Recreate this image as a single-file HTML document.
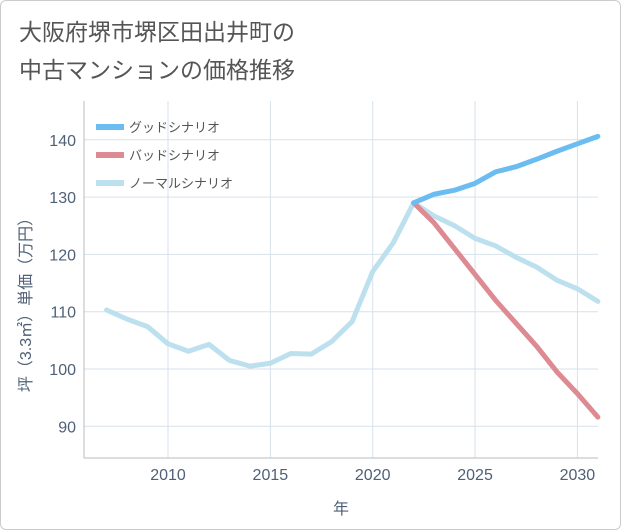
<!DOCTYPE html>
<html><head><meta charset="utf-8"><style>
body{margin:0;background:#fff;font-family:"Liberation Sans","Noto Sans CJK JP",sans-serif;}
#wrap{position:relative;width:619px;height:528px;border:1px solid #ccc;border-radius:6px;overflow:hidden;}
#title{position:absolute;left:18px;top:12px;font-size:23px;line-height:38px;color:#555;}
</style></head><body>
<div id="wrap">
<div id="title">大阪府堺市堺区田出井町の<br>中古マンションの価格推移</div>
<svg id="chart" width="621" height="530" style="position:absolute;left:0;top:0"></svg>
</div>
<script>
const years=[2007,2008,2009,2010,2011,2012,2013,2014,2015,2016,2017,2018,2019,2020,2021,2022,2023,2024,2025,2026,2027,2028,2029,2030,2031];
const normalVals=[110.3,108.7,107.4,104.4,103.1,104.3,101.5,100.5,101,102.7,102.6,104.8,108.3,117,122,129,126.7,125,122.8,121.5,119.5,117.8,115.5,114,111.8];
const scenYears=[2022,2023,2024,2025,2026,2027,2028,2029,2030,2031];
const goodVals=[129,130.5,131.2,132.4,134.4,135.3,136.6,138,139.3,140.6];
const badVals=[129,125.5,121,116.5,112,108,104,99.5,95.7,91.6];
const xTicks=[2010,2015,2020,2025,2030];
const yTicks=[90,100,110,120,130,140];
const legendLabels=["グッドシナリオ","バッドシナリオ","ノーマルシナリオ"];
const colors=["#6bbcf0","#dd8a92","#bde0ef"];
const L=83,R=597,T=100,B=457;
const TXT='#4f6077';
const x=v=>167+(v-2010)*20.47;
const y=v=>368-(v-100)*5.73;
const svg=document.getElementById('chart');
const NS='http://www.w3.org/2000/svg';
function mk(t,a){const e=document.createElementNS(NS,t);for(const k in a)e.setAttribute(k,a[k]);svg.appendChild(e);return e;}
const bg=mk('rect',{x:L,y:T,width:R-L,height:B-T,fill:'#fff',stroke:'none'});


xTicks.forEach(t=>{const g=mk('line',{x1:x(t),x2:x(t),y1:T,y2:B,stroke:'#d6e2ec'});


const l=mk('text',{x:x(t),y:B+22,'text-anchor':'middle','font-size':16,fill:TXT});l.textContent=t;

});
yTicks.forEach(t=>{const g=mk('line',{x1:L,x2:R,y1:y(t),y2:y(t),stroke:'#d6e2ec'});


const l=mk('text',{x:L-8,y:y(t)+6,'text-anchor':'end','font-size':16,fill:TXT});l.textContent=t;

});
const ax=mk('line',{x1:L,x2:L,y1:T,y2:B,stroke:'#bbb'});


const ax2=mk('line',{x1:L,x2:R,y1:B,y2:B,stroke:'#bbb'});


const xt=mk('text',{x:340,y:513,'text-anchor':'middle','font-size':16,fill:TXT});xt.textContent='年';


const yt=mk('text',{x:0,y:0,'text-anchor':'middle','font-size':16,fill:TXT,transform:'translate(30,300) rotate(-90)'});yt.textContent='坪（3.3㎡）単価（万円）';


function line(xs,vs,c,name){const p=mk('polyline',{points:xs.map((v,i)=>x(v)+','+y(vs[i])).join(' '),fill:'none',stroke:c,'stroke-width':5,'stroke-linejoin':'round','stroke-linecap':'round'});

}
line(years,normalVals,colors[2],'normal-scenario-line');
line(scenYears,badVals,colors[1],'bad-scenario-line');
line(scenYears,goodVals,colors[0],'good-scenario-line');
legendLabels.forEach((s,i)=>{const yy=126+i*28;
const l=mk('line',{x1:95,x2:123,y1:yy,y2:yy,stroke:colors[i],'stroke-width':6});


const t=mk('text',{x:128,y:yy+5,'font-size':13,fill:'#555'});t.textContent=s;

});
</script>
</body></html>
